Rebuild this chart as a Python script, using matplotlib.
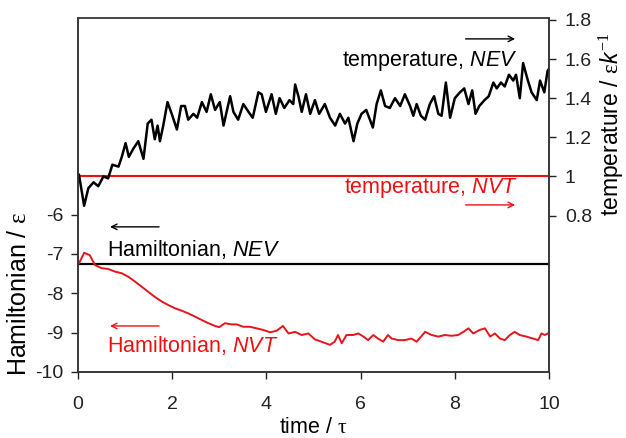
import numpy as np
import matplotlib
matplotlib.use('Agg')
import matplotlib.pyplot as plt

plt.rcParams['font.family'] = ['Liberation Sans', 'DejaVu Sans']
plt.rcParams['mathtext.fontset'] = 'custom'
plt.rcParams['mathtext.rm'] = 'Liberation Serif'
plt.rcParams['mathtext.it'] = 'Liberation Sans:italic'
plt.rcParams['axes.unicode_minus'] = False

# --- temperature, NEV ---
t_temp_nev = [0.0, 0.02, 0.13, 0.22, 0.33, 0.43, 0.54, 0.64, 0.73, 0.86, 0.93, 1.01, 1.08, 1.17,
              1.28, 1.39, 1.48, 1.56, 1.63, 1.69, 1.74, 1.81, 1.90, 1.99, 2.10, 2.19, 2.27, 2.34,
              2.45, 2.53, 2.63, 2.73, 2.82, 2.91, 3.01, 3.09, 3.23, 3.30, 3.40, 3.51, 3.62, 3.71,
              3.83, 3.90, 3.99, 4.11, 4.20, 4.28, 4.38, 4.49, 4.57, 4.61, 4.68, 4.75, 4.84, 4.93,
              5.03, 5.12, 5.24, 5.35, 5.46, 5.56, 5.67, 5.74, 5.85, 5.93, 6.02, 6.12, 6.26, 6.34,
              6.43, 6.52, 6.62, 6.73, 6.84, 6.94, 7.05, 7.12, 7.19, 7.28, 7.37, 7.47, 7.56, 7.65,
              7.72, 7.81, 7.90, 8.00, 8.11, 8.20, 8.29, 8.37, 8.44, 8.52, 8.63, 8.72, 8.82, 8.89,
              8.98, 9.06, 9.15, 9.24, 9.30, 9.38, 9.45, 9.54, 9.63, 9.74, 9.81, 9.90, 9.97, 10.0]
temp_nev = [1.0, 1.01, 0.85, 0.94, 0.97, 0.95, 1.00, 0.99, 1.06, 1.05, 1.10, 1.17, 1.10, 1.14,
            1.18, 1.09, 1.27, 1.29, 1.19, 1.26, 1.18, 1.26, 1.38, 1.32, 1.24, 1.36, 1.36, 1.29,
            1.32, 1.30, 1.38, 1.33, 1.42, 1.34, 1.38, 1.26, 1.41, 1.33, 1.29, 1.37, 1.33, 1.30,
            1.43, 1.42, 1.33, 1.42, 1.32, 1.40, 1.35, 1.39, 1.37, 1.47, 1.41, 1.33, 1.42, 1.32,
            1.39, 1.32, 1.37, 1.30, 1.26, 1.32, 1.27, 1.30, 1.18, 1.27, 1.32, 1.34, 1.25, 1.37,
            1.44, 1.36, 1.35, 1.40, 1.36, 1.42, 1.36, 1.31, 1.37, 1.31, 1.29, 1.37, 1.41, 1.32,
            1.31, 1.48, 1.30, 1.40, 1.43, 1.45, 1.37, 1.44, 1.32, 1.36, 1.39, 1.41, 1.48, 1.45,
            1.48, 1.46, 1.52, 1.49, 1.52, 1.40, 1.58, 1.50, 1.43, 1.39, 1.49, 1.43, 1.54, 1.55]

# --- Hamiltonian, NVT ---
t_ham_nvt = [0.0, 0.02, 0.13, 0.25, 0.36, 0.50, 0.64, 0.79, 0.93, 1.07, 1.21, 1.35, 1.49, 1.63,
             1.78, 1.92, 2.06, 2.20, 2.34, 2.48, 2.63, 2.77, 2.91, 3.00, 3.12, 3.26, 3.37, 3.51,
             3.65, 3.79, 3.93, 4.08, 4.22, 4.35, 4.47, 4.61, 4.75, 4.89, 5.03, 5.17, 5.35, 5.45,
             5.52, 5.60, 5.70, 5.84, 5.95, 6.06, 6.16, 6.27, 6.37, 6.48, 6.58, 6.66, 6.80, 6.94,
             7.08, 7.19, 7.37, 7.51, 7.65, 7.79, 7.93, 8.07, 8.18, 8.29, 8.39, 8.53, 8.64, 8.75,
             8.85, 8.96, 9.06, 9.17, 9.27, 9.38, 9.52, 9.66, 9.77, 9.84, 9.91, 9.97, 10.0]
ham_nvt = [-7.25, -7.24, -6.97, -7.03, -7.28, -7.36, -7.38, -7.45, -7.49, -7.58, -7.70, -7.83,
           -7.96, -8.09, -8.21, -8.30, -8.38, -8.44, -8.51, -8.59, -8.68, -8.76, -8.83, -8.86,
           -8.76, -8.79, -8.79, -8.85, -8.85, -8.89, -8.93, -8.99, -8.95, -8.83, -9.02, -8.98,
           -9.06, -9.02, -9.17, -9.23, -9.31, -9.23, -9.06, -9.27, -9.06, -9.06, -9.02, -9.10,
           -9.19, -9.06, -9.15, -9.23, -9.06, -9.15, -9.19, -9.19, -9.15, -9.23, -8.98, -9.06,
           -9.10, -9.06, -9.08, -9.06, -8.98, -8.89, -9.02, -8.93, -8.89, -9.10, -9.02, -9.15,
           -9.19, -9.06, -8.98, -9.06, -9.10, -9.15, -9.19, -9.02, -9.06, -9.02, -9.05]

# --- constant series ---
t_span = [0, 10]
ham_nev = [-7.25, -7.25]
temp_nvt = [1.0, 1.0]

left_ticks = [-10, -9, -8, -7, -6]
right_ticks = [0.8, 1.0, 1.2, 1.4, 1.6, 1.8]
right_labels = ['0.8', '1', '1.2', '1.4', '1.6', '1.8']
x_ticks = [0, 2, 4, 6, 8, 10]

fig = plt.figure(figsize=(6.26, 4.38), dpi=100)
ax = fig.add_axes([0.1246, 0.1507, 0.7524, 0.8082])
ax2 = ax.twinx()

ax.plot(t_span, ham_nev, color='black', lw=1.6, zorder=3)
ax.plot(t_ham_nvt, ham_nvt, color='#e8141c', lw=1.4, zorder=3)
ax2.plot(t_span, temp_nvt, color='#ee1111', lw=1.5)
ax2.plot(t_temp_nev, temp_nev, color='black', lw=1.8)

ax.set_xlim(0, 10)
ax.set_ylim(-10, -1)
ax2.set_ylim(0, 1.81)
ax.set_xticks(x_ticks)
ax.set_yticks(left_ticks)
ax2.set_yticks(right_ticks)
ax2.set_yticklabels(right_labels)

for a in (ax, ax2):
    for s in a.spines.values():
        s.set_color('#333333')
        s.set_linewidth(1.1)
    a.tick_params(direction='out', length=5, width=1, labelsize=14, colors='#222222')
ax.spines['top'].set_color('#777777')
ax.tick_params(axis='x', pad=12)
ax.tick_params(axis='y', pad=5.5)
ax2.tick_params(axis='y', pad=6.5)

ax.set_xlabel('time / $\\mathrm{\\tau}$', fontsize=15.5)
ax.xaxis.set_label_coords(0.5, -0.127)
ax.set_ylabel('Hamiltonian / $\\mathrm{\\varepsilon}$', fontsize=18)
ax.yaxis.set_label_coords(-0.1, 0.22)
ax2.set_ylabel('temperature / $\\mathrm{\\varepsilon}\\mathit{k}^{-1}$', fontsize=16.5, rotation=90)
ax2.yaxis.set_label_coords(1.1, 0.70)

# --- labels with arrows ---
fs = 15.5
ax.text(0.934, 0.879, 'temperature, $\\mathit{NEV}$', transform=ax.transAxes,
        ha='right', va='center', fontsize=fs, color='black')
ax.annotate('', xy=(0.934, 0.941), xytext=(0.817, 0.941), xycoords='axes fraction',
            arrowprops=dict(arrowstyle='->', color='black', lw=1))
ax.text(0.934, 0.520, 'temperature, $\\mathit{NVT}$', transform=ax.transAxes,
        ha='right', va='center', fontsize=fs, color='#ee1111')
ax.annotate('', xy=(0.934, 0.472), xytext=(0.817, 0.472), xycoords='axes fraction',
            arrowprops=dict(arrowstyle='->', color='#ee1111', lw=1))
ax.text(0.062, 0.347, 'Hamiltonian, $\\mathit{NEV}$', transform=ax.transAxes,
        ha='left', va='center', fontsize=fs, color='black')
ax.annotate('', xy=(0.062, 0.410), xytext=(0.178, 0.410), xycoords='axes fraction',
            arrowprops=dict(arrowstyle='->', color='black', lw=1))
ax.text(0.062, 0.076, 'Hamiltonian, $\\mathit{NVT}$', transform=ax.transAxes,
        ha='left', va='center', fontsize=fs, color='#ee1111')
ax.annotate('', xy=(0.062, 0.130), xytext=(0.178, 0.130), xycoords='axes fraction',
            arrowprops=dict(arrowstyle='->', color='#ee1111', lw=1))

fig.savefig('out.png', dpi=100)
